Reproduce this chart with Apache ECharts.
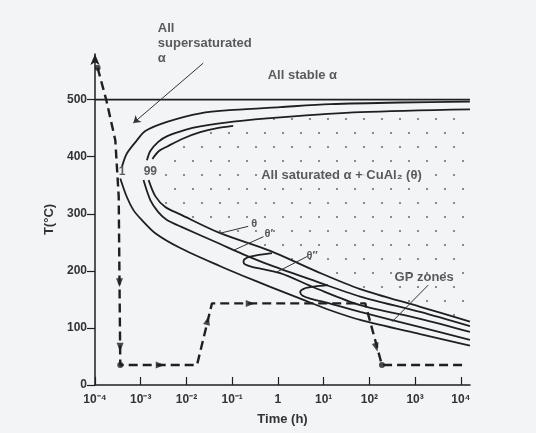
<!DOCTYPE html>
<html>
<head>
<meta charset="utf-8">
<title>Al-Cu TTT diagram</title>
<script src="https://cdn.jsdelivr.net/npm/echarts@6/dist/echarts.min.js"></script>
<style>
html, body { margin: 0; padding: 0; background: #f3f4f6; }
#chart { width: 536px; height: 433px; }
</style>
</head>
<body>
<div id="chart"></div>
<script>
// time in hours, temperature in °C
var stableTime = [0.0001, 15800]
var stableTemp = [500, 500]

// "1" curve
var outerUpTime = [3.9e-4, 5.0e-4, 8.3e-4, 1.26e-3, 3.75e-3, 0.02, 0.105, 1.12, 13.9, 470, 15800]
var outerUpTemp = [383, 406, 429, 445, 461, 476, 482, 487, 492, 495, 496.5]
var outerLoTime = [3.57e-4, 5.0e-4, 6.98e-4, 1.06e-3, 2.08e-3, 7.33e-3, 0.0548, 0.175, 0.68, 3.4, 13.9, 63, 1290, 15800]
var outerLoTemp = [362, 329, 306, 289, 266, 240, 208, 191, 172, 150, 131, 114, 89, 69]

// "99" curves
var midUpTime = [1.37e-3, 1.62e-3, 2.42e-3, 3.8e-3, 9.4e-3, 0.02, 0.105, 1.12, 63, 15800]
var midUpTemp = [394, 410, 426, 436, 447, 453, 461.5, 469, 478, 483]
var midLoTime = [1.15e-3, 1.62e-3, 2.42e-3, 3.75e-3, 7.33e-3, 0.0548, 0.175, 0.68, 6.55, 63, 1290, 15800]
var midLoTemp = [359, 324, 303, 289, 278, 247, 229, 210, 182, 155, 128, 103]

var innerUpTime = [1.8e-3, 2.5e-3, 3.8e-3, 8.5e-3, 0.02, 0.047, 0.105]
var innerUpTemp = [396, 410, 418, 432, 443, 450, 454]
var innerLoTime = [1.49e-3, 2.08e-3, 3.44e-3, 7.33e-3, 0.0548, 0.68, 6.55, 63, 1290, 15800]
var innerLoTemp = [359, 331, 312, 299, 266, 235, 200, 168, 137, 111]

// theta' and theta'' noses
var thetaPTime = [0.74, 0.248, 0.183, 0.177, 0.193, 0.27, 1.12, 6.55, 63, 1290, 15800]
var thetaPTemp = [231, 225, 220, 215, 211, 207, 196, 170, 140, 116, 93]
var thetaPPTime = [12.5, 6.2, 3.76, 3.07, 3.4, 5.08, 13.9, 63, 1290, 15800]
var thetaPPTemp = [175, 172.5, 169, 163, 157, 151.5, 142.7, 128, 101.6, 79]

// heat treatment path
var pathTime = [1.14e-4, 1.77e-4, 2.78e-4, 3.3e-4, 3.57e-4, 0.017, 0.0361, 81, 188, 11000]
var pathTemp = [556, 499, 429, 330, 35, 35, 143, 143, 35, 35]
var dotTime = [1.14e-4, 3.57e-4, 188]
var dotTemp = [556, 35, 35]
var arrowTime = [3.43e-4, 3.54e-4, 2.67e-3, 0.029, 0.248, 142]
var arrowTemp = [179, 66, 35, 113, 143, 66]
var arrowTurn = [180, 180, -90, -14, -90, 195]

// annotations
var noteText = ['All\nsupersaturated\nα', 'All stable α', 'All saturated α + CuAl₂ (θ)', '1', '99', 'θ', 'θ′', 'θ″', 'GP zones']
var noteTime = [2.3e-3, 0.583, 0.38, 3.9e-4, 1.62e-3, 0.303, 0.63, 5.62, 1580]
var noteTemp = [599, 543, 368, 374, 374, 283, 264, 226, 189]
var noteSize = [13, 13, 13, 12, 12, 11, 11, 11, 13]
var noteLeft = [true, true, true, false, false, false, false, false, false]

var leaderFrom = [[0.0233, 564], [0.224, 278], [0.484, 260], [4.31, 225], [1930, 175]]
var leaderTo = [[6.89e-4, 459], [0.0548, 266], [0.107, 236], [0.95, 198], [315, 111]]

// decades shown on the time axis (as powers of ten) and temperature ticks
var xDecades = [-4, -3, -2, -1, 0, 1, 2, 3, 4]
var yTicks = [0, 100, 200, 300, 400, 500]

var ink = '#1f1f1f'
var textInk = '#333333'
var bg = '#f3f4f6'
var supDigits = { '-': '⁻', '0': '⁰', '1': '¹', '2': '²', '3': '³', '4': '⁴' }

function pairs(ts, vs) {
  return ts.map(function (t, i) { return [t, vs[i]] })
}

function curve(name, ts, vs) {
  return {
    name: name,
    type: 'line',
    data: pairs(ts, vs),
    smooth: 0.3,
    symbol: 'none',
    clip: false,
    silent: true,
    lineStyle: { color: ink, width: 1.8 },
    z: 3
  }
}

// stipple for the "saturated alpha + theta" field
function dotPattern() {
  var c = document.createElement('canvas')
  c.width = 18
  c.height = 28
  var g = c.getContext('2d')
  g.fillStyle = 'rgba(70,70,70,0.75)'
  g.beginPath(); g.arc(4, 7, 1.1, 0, Math.PI * 2); g.fill()
  g.beginPath(); g.arc(13, 21, 1.1, 0, Math.PI * 2); g.fill()
  return c
}
var pattern = dotPattern()

// field inside the inner curve, kept clear of the "99" label at its nose
var lastInner = innerUpTime[innerUpTime.length - 1]
var regionPts = pairs(innerUpTime, innerUpTemp).slice(1)
  .concat(pairs(midUpTime, midUpTemp).filter(function (p) { return p[0] > lastInner }))
  .concat(pairs(innerLoTime, innerLoTemp).slice(2).reverse())

var notes = noteText.map(function (txt, i) {
  return {
    value: [noteTime[i], noteTemp[i]],
    label: {
      show: true,
      formatter: txt,
      position: noteLeft[i] ? 'right' : 'inside',
      distance: 0,
      align: noteLeft[i] ? 'left' : 'center',
      fontSize: noteSize[i],
      fontWeight: 'bold',
      lineHeight: noteSize[i] + 2,
      color: textInk,
      backgroundColor: i === 2 ? bg : 'transparent',
      padding: i === 2 ? [1, 2] : 0
    }
  }
})

var leaders = leaderFrom.map(function (p, i) {
  return [
    { coord: p, symbol: 'none' },
    { coord: leaderTo[i], symbol: i === 0 ? 'arrow' : 'none', symbolSize: 7 }
  ]
})

var chart = echarts.init(document.getElementById('chart'))

chart.setOption({
  animation: false,
  backgroundColor: bg,
  textStyle: { fontFamily: 'Liberation Sans, Arial, sans-serif' },
  grid: { left: 95, right: 66, top: 54, bottom: 48 },
  xAxis: [
    {
      // data axis: log time in hours
      type: 'log',
      logBase: 10,
      min: 1e-4,
      max: 15849,
      position: 'bottom',
      name: 'Time (h)',
      nameLocation: 'middle',
      nameGap: 28,
      nameTextStyle: { fontSize: 13, fontWeight: 'bold', color: textInk },
      axisLine: { onZero: false, lineStyle: { color: ink, width: 1.5 } },
      axisTick: { show: false },
      axisLabel: { show: false },
      splitLine: { show: false },
      minorTick: { show: false }
    },
    {
      // same span in decades, only for the tick marks and labels
      type: 'value',
      min: -4,
      max: 4.2,
      position: 'bottom',
      axisLine: { show: false, onZero: false },
      axisTick: { show: true, inside: true, length: 8, customValues: xDecades, lineStyle: { color: ink, width: 1.2 } },
      axisLabel: {
        customValues: xDecades,
        margin: 9,
        fontSize: 12,
        fontWeight: 'bold',
        color: textInk,
        formatter: function (v) {
          var e = Math.round(v)
          if (e === 0) return '1'
          return '10' + String(e).split('').map(function (ch) { return supDigits[ch] }).join('')
        }
      },
      splitLine: { show: false }
    }
  ],
  yAxis: {
    type: 'value',
    min: 0,
    max: 580,
    position: 'left',
    name: 'T(°C)',
    nameLocation: 'middle',
    nameGap: 38,
    nameRotate: 90,
    nameTextStyle: { fontSize: 13, fontWeight: 'bold', color: textInk },
    axisLine: { show: true, onZero: false, lineStyle: { color: ink, width: 1.5 }, symbol: ['none', 'arrow'], symbolSize: [7, 11] },
    axisTick: { show: true, length: 8, customValues: yTicks, lineStyle: { color: ink, width: 1.2 } },
    axisLabel: { customValues: yTicks, fontSize: 12, fontWeight: 'bold', margin: 8, color: textInk },
    splitLine: { show: false }
  },
  series: [
    {
      type: 'custom',
      silent: true,
      clip: false,
      data: [[0.01, 300]],
      renderItem: function (params, api) {
        var pts = regionPts.map(function (p) { return api.coord(p) })
        return {
          type: 'polygon',
          shape: { points: pts },
          style: { fill: { image: pattern, repeat: 'repeat' } }
        }
      },
      z: 1
    },
    {
      name: 'stable',
      type: 'line',
      data: pairs(stableTime, stableTemp),
      symbol: 'none',
      clip: false,
      silent: true,
      lineStyle: { color: ink, width: 1.6 },
      z: 3,
      markLine: {
        silent: true,
        animation: false,
        label: { show: false },
        lineStyle: { color: '#333', width: 1, type: 'solid' },
        data: leaders
      }
    },
    curve('outer up', outerUpTime, outerUpTemp),
    curve('outer low', outerLoTime, outerLoTemp),
    curve('mid up', midUpTime, midUpTemp),
    curve('mid low', midLoTime, midLoTemp),
    curve('inner up', innerUpTime, innerUpTemp),
    curve('inner low', innerLoTime, innerLoTemp),
    curve('theta prime', thetaPTime, thetaPTemp),
    curve('theta double prime', thetaPPTime, thetaPPTemp),
    {
      name: 'path',
      type: 'line',
      data: pairs(pathTime, pathTemp),
      symbol: 'none',
      clip: false,
      silent: true,
      lineStyle: { color: ink, width: 2.4, type: [9, 5] },
      z: 4
    },
    {
      type: 'scatter',
      data: pairs(dotTime, dotTemp),
      symbol: 'circle',
      symbolSize: 6,
      clip: false,
      silent: true,
      itemStyle: { color: ink },
      z: 5
    },
    {
      type: 'scatter',
      data: arrowTime.map(function (t, i) {
        return { value: [t, arrowTemp[i]], symbolRotate: arrowTurn[i] }
      }),
      symbol: 'triangle',
      symbolSize: [7, 9],
      clip: false,
      silent: true,
      itemStyle: { color: ink },
      z: 5
    },
    {
      type: 'scatter',
      data: notes,
      symbol: 'circle',
      symbolSize: 1,
      clip: false,
      silent: true,
      itemStyle: { color: 'rgba(0,0,0,0)' },
      z: 6
    }
  ]
})
</script>
</body>
</html>
